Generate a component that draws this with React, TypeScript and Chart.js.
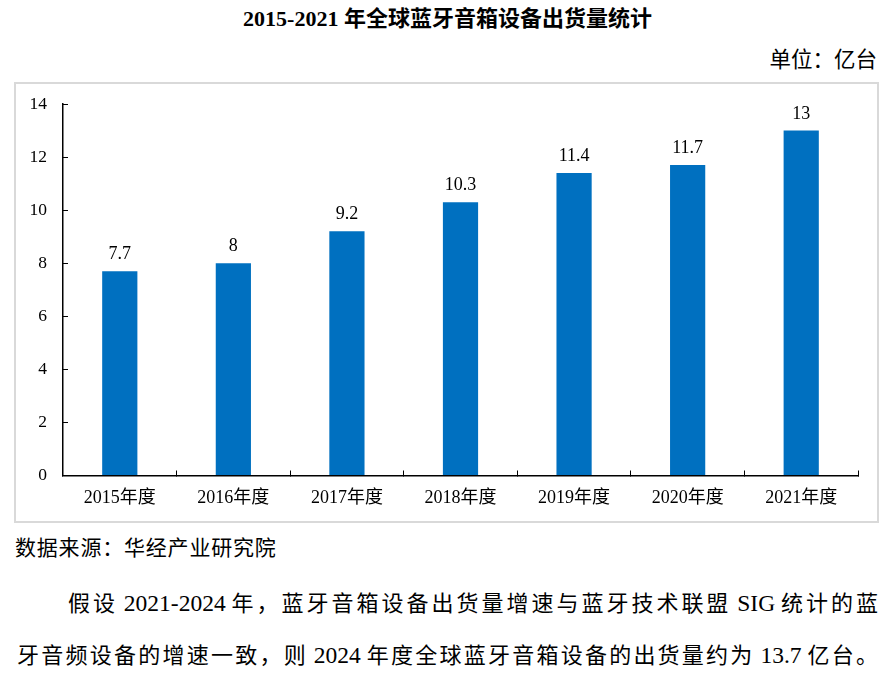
import React, { useEffect, useLayoutEffect, useRef } from 'react';
import { Chart, registerables } from 'chart.js';

Chart.register(...registerables);

const categories = ['2015年度', '2016年度', '2017年度', '2018年度', '2019年度', '2020年度', '2021年度'];
const shipments = [7.7, 8, 9.2, 10.3, 11.4, 11.7, 13];
const yMin = 0;
const yMax = 14;
const yStep = 2;

const SERIF = '"Liberation Serif", "Times New Roman", "Noto Sans CJK SC", serif';

const paragraphLines = [
  '假设 2021-2024 年，蓝牙音箱设备出货量增速与蓝牙技术联盟 SIG 统计的蓝',
  '牙音频设备的增速一致，则 2024 年度全球蓝牙音箱设备的出货量约为 13.7 亿台。',
];

const valueLabels = {
  id: 'valueLabels',
  afterDatasetsDraw(chart: any) {
    const ctx = chart.ctx;
    const meta = chart.getDatasetMeta(0);
    const data = chart.data.datasets[0].data;
    ctx.save();
    ctx.font = `18px ${SERIF}`;
    ctx.fillStyle = '#000';
    ctx.textAlign = 'center';
    ctx.textBaseline = 'alphabetic';
    meta.data.forEach((bar: any, i: number) => {
      ctx.fillText(String(data[i]), bar.x, bar.y - 12);
    });
    ctx.restore();
  },
};

const isCjk = (ch: string) => /[\u3000-\u303f\u4e00-\u9fff\uff00-\uffef]/.test(ch);

function splitRuns(text: string) {
  const runs: { cjk: boolean; s: string }[] = [];
  for (const ch of Array.from(text)) {
    const c = isCjk(ch);
    const last = runs[runs.length - 1];
    if (last && last.cjk === c) last.s += ch;
    else runs.push({ cjk: c, s: ch });
  }
  return runs;
}

function SpreadLine({ text, left, top, width }: { text: string; left: number; top: number; width: number }) {
  const ref = useRef<HTMLSpanElement | null>(null);
  const runs = splitRuns(text);
  useLayoutEffect(() => {
    const el = ref.current;
    if (!el) return;
    const cjkSpans = Array.from(el.querySelectorAll('span[data-cjk="1"]')) as HTMLSpanElement[];
    cjkSpans.forEach((s) => (s.style.letterSpacing = '0px'));
    const natural = el.getBoundingClientRect().width;
    let count = 0;
    cjkSpans.forEach((s) => (count += Array.from(s.textContent || '').length));
    const lastIsCjk = isCjk(Array.from(text).slice(-1)[0]);
    const gaps = lastIsCjk ? count - 1 : count;
    const ls = gaps > 0 ? (width - natural) / gaps : 0;
    cjkSpans.forEach((s) => (s.style.letterSpacing = `${ls}px`));
  }, [text, width]);
  return (
    <div style={{ position: 'absolute', left, top, width: width + 40, whiteSpace: 'nowrap' }}>
      <span
        ref={ref}
        style={{
          display: 'inline-block',
          fontSize: 22,
          lineHeight: '28px',
          fontFamily: SERIF,
          color: '#000',
        }}
      >
        {runs.map((r, i) => (
          <span key={i} data-cjk={r.cjk ? '1' : '0'} style={r.cjk ? undefined : { fontSize: 23.5 }}>
            {r.s}
          </span>
        ))}
      </span>
    </div>
  );
}

export default function App() {
  const ref = useRef<HTMLCanvasElement | null>(null);

  useEffect(() => {
    if (!ref.current) return;
    const chart = new Chart(ref.current, {
      type: 'bar',
      data: {
        labels: categories,
        datasets: [
          {
            data: shipments,
            backgroundColor: '#0070C0',
            borderWidth: 0,
            barPercentage: 0.31,
            categoryPercentage: 1,
          },
        ],
      },
      options: {
        animation: false,
        responsive: false,
        layout: { padding: { top: 20, right: 19, left: 0, bottom: 0 } },
        plugins: { legend: { display: false }, tooltip: { enabled: false } },
        scales: {
          x: {
            grid: {
              display: true,
              drawOnChartArea: false,
              drawTicks: true,
              tickLength: -5,
              color: '#000',
              lineWidth: 1,
              offset: true,
            },
            border: { display: true, color: '#000', width: 1.5 },
            ticks: {
              font: { size: 18, family: SERIF },
              color: '#000',
              padding: 17,
              autoSkip: false,
              maxRotation: 0,
            },
            afterFit(scale: any) {
              scale.height = 45.5;
              scale.paddingLeft = 0;
              scale.paddingRight = 0;
            },
          },
          y: {
            min: yMin,
            max: yMax,
            grid: {
              display: true,
              drawOnChartArea: false,
              drawTicks: true,
              tickLength: -5,
              color: '#000',
              lineWidth: 1,
            },
            border: { display: true, color: '#000', width: 1.5 },
            ticks: {
              stepSize: yStep,
              font: { size: 17.5, family: SERIF },
              color: '#000',
              padding: 21,
            },
            afterFit(scale: any) {
              scale.width = 47;
              scale.paddingTop = 0;
              scale.paddingBottom = 0;
            },
          },
        },
      },
      plugins: [valueLabels],
    });
    return () => chart.destroy();
  }, []);

  const textBase: React.CSSProperties = {
    position: 'absolute',
    color: '#000',
    fontFamily: SERIF,
    whiteSpace: 'nowrap',
  };

  return (
    <div style={{ position: 'absolute', left: 0, top: 0, width: 895, height: 673, background: '#fff' }}>
      <div
        style={{
          ...textBase,
          left: 0,
          top: 6,
          width: 895,
          textAlign: 'center',
          fontSize: 22,
          lineHeight: '26px',
          fontWeight: 'bold',
        }}
      >
        2015-2021 年全球蓝牙音箱设备出货量统计
      </div>
      <div style={{ ...textBase, right: 18, top: 47, fontSize: 21.5, lineHeight: '26px' }}>单位：亿台</div>
      <div
        style={{
          position: 'absolute',
          left: 14,
          top: 82,
          width: 865,
          height: 441,
          border: '2px solid #d9d9d9',
          boxSizing: 'border-box',
        }}
      >
        <canvas ref={ref} width={861} height={437} style={{ display: 'block', width: 861, height: 437 }} />
      </div>
      <div style={{ ...textBase, left: 15, top: 536, fontSize: 21, lineHeight: '24px', letterSpacing: '0.8px' }}>
        数据来源：华经产业研究院
      </div>
      <SpreadLine text={paragraphLines[0]} left={68} top={589} width={810} />
      <SpreadLine text={paragraphLines[1]} left={17} top={641} width={861} />
    </div>
  );
}
